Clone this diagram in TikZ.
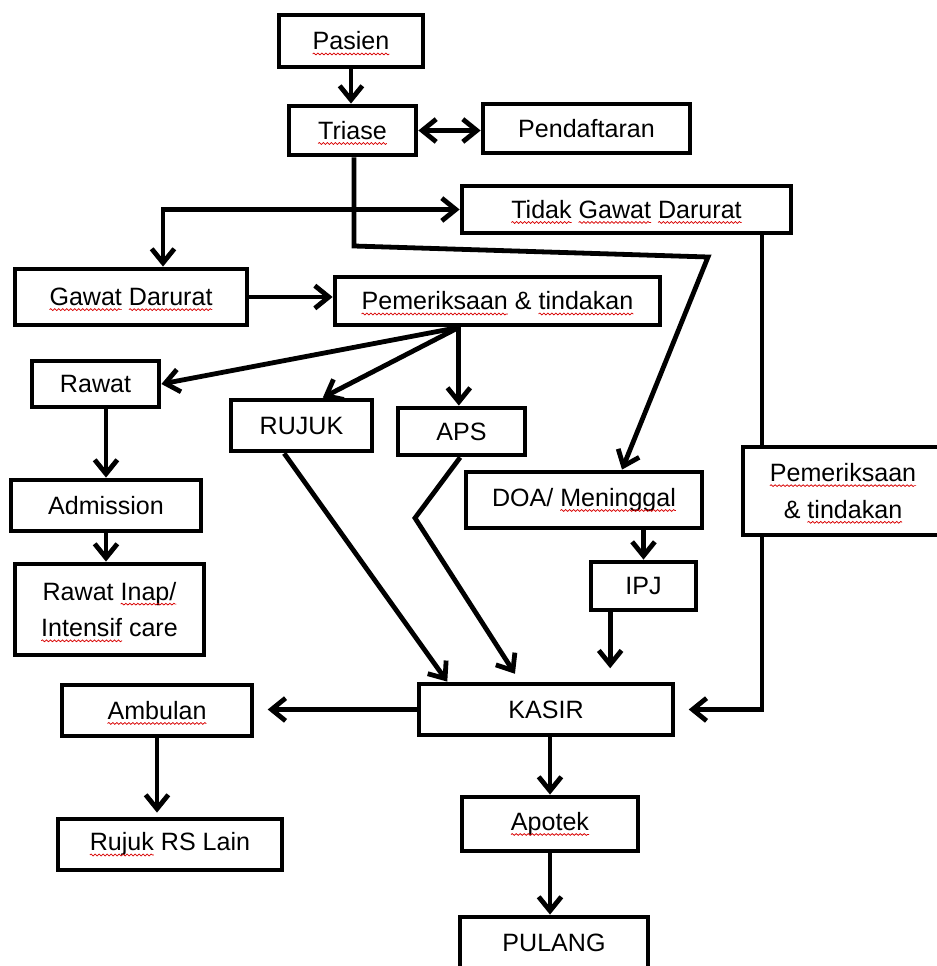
\documentclass[tikz,border=0pt]{standalone}
\usepackage{fontspec}
\setmainfont{Liberation Sans}
\usetikzlibrary{arrows.meta,decorations.pathmorphing}
\tikzset{
  box/.style 2 args={draw=black, line width=3.6pt, rectangle, inner sep=0pt, align=center,
    minimum width=#1*0.75pt, minimum height=#2*0.75pt,
    font=\fontsize{18.8pt}{27.5pt}\selectfont, text=black},
  tip/.tip={Straight Barb[length=10.5pt,width=17pt]},
  arr/.style={line width=3.6pt, -tip},
  dbl/.style={line width=3.6pt, tip-tip},
  plain/.style={line width=3.6pt},
  squig/.style={draw=red!85!black, line width=0.55pt, decorate,
    decoration={snake, amplitude=0.7pt, segment length=3pt}}
}
\newcommand{\wavy}[1]{\tikz[baseline=(wv.base)]{\node[inner sep=0pt,outer sep=0pt,draw=none,minimum width=0pt,minimum height=0pt](wv){#1};\draw[squig,overlay]([yshift=-3pt]wv.base west)--([yshift=-3pt]wv.base east);}}
\begin{document}
\begin{tikzpicture}[x=0.75pt,y=-0.75pt]
\useasboundingbox (0,0) rectangle (937,966);
\clip (0,0) rectangle (937,966);
\fill[white] (0,0) rectangle (937,966);
% boxes
\node[box={144}{52}] (pasien) at (351,41) {\wavy{Pasien}};
\node[box={127}{49}] (triase) at (352.5,130.5) {\wavy{Triase}};
\node[box={207}{49}] (pend) at (586.5,128.5) {Pendaftaran};
\node[box={329}{47}] (tgd) at (626.5,209.5) {\wavy{Tidak} \wavy{Gawat} \wavy{Darurat}};
\node[box={232}{56}] (gd) at (131,297) {\wavy{Gawat} \wavy{Darurat}};
\node[box={325}{48}] (pt) at (497.5,301) {\wavy{Pemeriksaan} \& \wavy{tindakan}};
\node[box={127}{46}] (rawat) at (95.5,384) {Rawat};
\node[box={141}{51}] (rujuk) at (301.5,425.5) {RUJUK};
\node[box={127}{47}] (aps) at (461.5,431.5) {APS};
\node[box={236}{56}] (doa) at (584,500) {DOA/ \wavy{Meninggal}};
\node[box={200}{88}] (ptr) at (843,491) {\wavy{Pemeriksaan}\\\& \wavy{tindakan}};
\node[box={190}{51}] (adm) at (106,505.5) {Admission};
\node[box={189}{91}] (inap) at (109.5,609.5) {Rawat \wavy{Inap/}\\\wavy{Intensif} care};
\node[box={105}{48}] (ipj) at (643.5,586) {IPJ};
\node[box={254}{51}] (kasir) at (546,709.5) {KASIR};
\node[box={190}{51}] (amb) at (157,710.5) {\wavy{Ambulan}};
\node[box={224}{51}] (rrs) at (170,844.5) {\wavy{Rujuk} RS Lain};
\node[box={176}{54}] (apotek) at (550,824) {\wavy{Apotek}};
\node[box={188}{52}] (pulang) at (554,943) {PULANG};
% helper coordinates
\coordinate (t1) at (354,246);
\coordinate (t2) at (708,257);
\coordinate (c1) at (163,209.5);
\coordinate (f) at ([xshift=-29pt]pt.south);
\coordinate (a1) at (415,518);
\coordinate (v) at (762,0);
% connectors
\draw[arr] (pasien.south) -- (pasien.south |- triase.north);
\draw[dbl] (triase.east) -- (triase.east -| pend.west);
\draw[arr] (triase.south -| t1) -- (t1) -- (t2) -- ([xshift=28.5pt]doa.north);
\draw[dbl] (tgd.west) -- (c1) -- (c1 |- gd.north);
\draw[arr] (gd.east) -- (gd.east -| pt.west);
\draw[arr] (f) -- (rawat.east);
\draw[arr] (f) -- ([xshift=16pt]rujuk.north);
\draw[arr] (f) -- (f |- aps.north);
\draw[arr] ([xshift=-13pt]rujuk.south) -- ([xshift=23pt]kasir.north west);
\draw[arr, shorten >=7pt] ([xshift=-1pt]aps.south) -- (a1) -- ([xshift=-19.5pt]kasir.north);
\draw[arr] (doa.south -| ipj.north) -- (ipj.north);
\draw[arr, shorten >=10pt] ([xshift=-25pt]ipj.south) -- ([xshift=-25pt]ipj.south |- kasir.north);
\draw[plain] (tgd.south -| v) -- (ptr.north -| v);
\draw[arr, shorten >=10pt] (ptr.south -| v) -- (v |- kasir.east) -- (kasir.east);
\draw[arr, shorten >=10pt] (kasir.west) -- (kasir.west -| amb.east);
\draw[arr, shorten >=3pt] (amb.south) -- (amb.south |- rrs.north);
\draw[arr] (kasir.south -| apotek.north) -- (apotek.north);
\draw[arr] (apotek.south) -- (apotek.south |- pulang.north);
\draw[arr] (rawat.south -| adm.north) -- (adm.north);
\draw[arr] (adm.south) -- (adm.south |- inap.north);
\end{tikzpicture}
\end{document}
